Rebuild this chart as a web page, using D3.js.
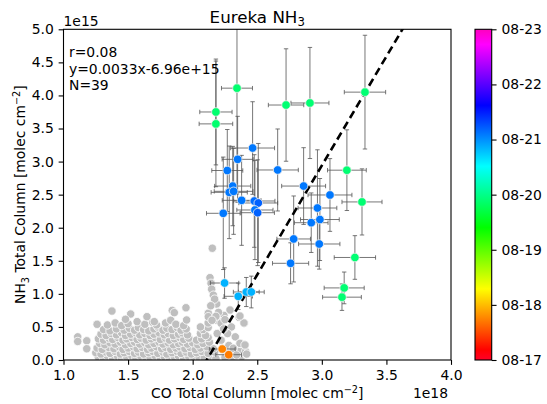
<!DOCTYPE html>
<html lang="en">
<head>
<meta charset="UTF-8">
<title>Eureka NH3 vs CO</title>
<script src="https://d3js.org/d3.v7.min.js"></script>
<style>
    body { margin: 0; background: #fff; }
    svg { font-family: "DejaVu Sans", sans-serif; }
</style>
</head>
<body>
<svg id="chart" width="547" height="404"></svg>
<script>
// background (all data) points: CO [1e18], NH3 [1e15]
const greyPoints = [
    [1.27,0.04],[1.31,0.02],[1.34,0.06],[1.38,0.03],[1.42,0.05],[1.45,0.02],[1.49,0.04],[1.53,0.06],[1.56,0.03],[1.60,0.05],
    [1.64,0.02],[1.67,0.04],[1.71,0.06],[1.75,0.03],[1.78,0.05],[1.82,0.02],[1.86,0.04],[1.89,0.06],[1.93,0.03],[1.97,0.05],
    [2.01,0.02],[2.05,0.04],[2.09,0.03],[2.14,0.05],[2.18,0.02],[2.25,0.04],[2.32,0.03],[2.38,0.05],
    [1.25,0.11],[1.29,0.09],[1.33,0.12],[1.36,0.10],[1.40,0.13],[1.44,0.09],[1.47,0.11],[1.51,0.13],[1.55,0.10],[1.58,0.12],
    [1.62,0.09],[1.66,0.11],[1.69,0.13],[1.73,0.10],[1.77,0.12],[1.80,0.09],[1.84,0.11],[1.88,0.13],[1.91,0.10],[1.95,0.12],
    [1.99,0.09],[2.03,0.11],[2.07,0.13],[2.12,0.10],[2.17,0.12],[2.34,0.08],[2.41,0.09],
    [1.26,0.18],[1.30,0.16],[1.35,0.19],[1.39,0.17],[1.43,0.20],[1.46,0.16],[1.50,0.18],[1.54,0.20],[1.57,0.17],[1.61,0.19],
    [1.65,0.16],[1.68,0.18],[1.72,0.20],[1.76,0.17],[1.79,0.19],[1.83,0.16],[1.87,0.18],[1.90,0.20],[1.94,0.17],[1.98,0.19],
    [2.02,0.16],[2.06,0.18],[2.11,0.20],[2.16,0.17],[2.31,0.18],[2.37,0.15],[2.41,0.13],
    [1.28,0.25],[1.32,0.23],[1.36,0.26],[1.40,0.24],[1.44,0.27],[1.48,0.23],[1.52,0.25],[1.55,0.27],[1.59,0.24],[1.63,0.26],
    [1.66,0.23],[1.70,0.25],[1.74,0.27],[1.77,0.24],[1.81,0.26],[1.85,0.23],[1.89,0.25],[1.92,0.27],[1.96,0.24],[2.00,0.26],
    [2.04,0.23],[2.08,0.25],[2.13,0.27],[2.37,0.25],[2.40,0.23],
    [1.27,0.32],[1.31,0.30],[1.35,0.33],[1.38,0.31],[1.42,0.34],[1.46,0.30],[1.49,0.32],[1.53,0.34],[1.57,0.31],[1.60,0.33],
    [1.64,0.30],[1.68,0.32],[1.71,0.34],[1.75,0.31],[1.79,0.33],[1.82,0.30],[1.86,0.32],[1.90,0.34],[1.93,0.31],[1.97,0.33],
    [2.03,0.30],[2.07,0.32],[2.12,0.34],
    [1.29,0.39],[1.33,0.37],[1.37,0.40],[1.41,0.38],[1.45,0.41],[1.48,0.37],[1.52,0.39],[1.56,0.41],[1.59,0.38],[1.63,0.40],
    [1.67,0.37],[1.70,0.39],[1.74,0.41],[1.78,0.38],[1.81,0.40],[1.85,0.37],[1.89,0.39],[1.92,0.41],[1.96,0.38],[2.06,0.40],
    [2.10,0.37],
    [1.31,0.46],[1.36,0.44],[1.41,0.47],[1.47,0.45],[1.51,0.48],[1.55,0.45],[1.58,0.49],[1.62,0.46],[1.66,0.44],[1.70,0.47],
    [1.73,0.50],[1.77,0.45],[1.80,0.48],[1.84,0.46],[1.88,0.49],[1.91,0.45],[1.95,0.47],[2.08,0.46],[2.12,0.49],
    [1.34,0.53],[1.40,0.56],[1.45,0.52],[1.50,0.55],[1.57,0.58],[1.63,0.54],[1.69,0.57],[1.72,0.53],[1.79,0.56],[1.83,0.60],
    [1.87,0.54],[1.93,0.52],[2.06,0.50],[2.12,0.56],[2.19,0.60],[2.22,0.555],[2.40,0.56],
    [1.11,0.35],[1.11,0.28],[1.18,0.29],[1.18,0.17],[1.26,0.54],[1.375,0.74],[1.52,0.695],[1.48,0.615],[1.646,0.655],
    [1.703,0.58],[1.842,0.75],[1.858,0.716],[1.948,0.79],[1.953,0.605],
    [2.152,1.69],[2.134,1.245],[2.142,1.16],[2.147,1.07],[2.16,0.98],[2.186,0.847],[2.121,0.706],[2.289,0.756],[2.36,0.645],
    [2.242,0.675],[2.121,0.655],[2.17,0.92],[2.14,0.82],[2.20,0.72],[2.18,0.66],[2.15,0.60],[2.25,0.61],[2.30,0.50],
    [2.27,0.40],[2.33,0.35],[2.22,0.30],[2.28,0.22],[2.19,0.40],[2.24,0.47],[2.366,0.252],[2.405,0.227],[2.314,0.177],
    [2.418,0.09],[2.34,0.075],[2.397,0.56],[2.366,0.665]
];

// Eureka coincident measurements
const coX    = [2.229, 2.279,
                2.343, 2.180, 2.180, 2.723, 2.908, 3.334, 3.194, 3.311, 3.256, 3.173, 3.156,
                2.464, 2.348, 2.268, 2.658, 2.310, 2.283, 2.317, 2.379, 2.477, 2.508, 2.482, 2.503, 2.237,
                2.859, 3.063, 2.966, 2.985, 2.918, 2.782, 2.980, 2.758,
                2.247, 2.353, 2.415, 2.454];
const nh3Y   = [0.166, 0.080,
                4.110, 3.750, 3.570, 3.855, 3.886, 4.050, 2.870, 2.390, 1.550, 1.090, 0.950,
                3.205, 3.034, 2.865, 2.873, 2.630, 2.535, 2.550, 2.414, 2.404, 2.374, 2.268, 2.227, 2.218,
                2.630, 2.495, 2.298, 2.124, 2.076, 1.830, 1.754, 1.462,
                1.164, 0.963, 1.028, 1.028];
const coErr  = [0.10, 0.10,
                0.12, 0.125, 0.13, 0.137, 0.147, 0.16, 0.15, 0.155, 0.16, 0.155, 0.15,
                0.17, 0.12, 0.12, 0.16, 0.14, 0.14, 0.15, 0.15, 0.16, 0.15, 0.14, 0.13, 0.13,
                0.17, 0.17, 0.15, 0.15, 0.13, 0.13, 0.16, 0.14,
                0.11, 0.11, 0.10, 0.10];
const nh3Err = [0.05, 0.05,
                1.60, 0.80, 0.95, 0.85, 0.84, 0.86, 0.61, 0.50, 0.33, 0.24, 0.20,
                0.70, 0.65, 0.62, 0.62, 0.60, 0.70, 0.65, 0.68, 0.70, 0.90, 0.75, 0.80, 0.85,
                0.58, 0.55, 0.88, 0.62, 0.45, 0.65, 0.38, 0.31,
                0.23, 0.20, 0.22, 0.24];
const obsDay = [17.75, 17.72,
                19.88, 19.88, 19.88, 19.9, 19.9, 19.9, 19.9, 19.9, 19.9, 19.9, 19.9,
                21.1, 21.1, 21.1, 21.1, 21.1, 21.1, 21.1, 21.1, 21.15, 21.2, 21.1, 21.2, 21.1,
                21.1, 21.1, 21.1, 21.1, 21.1, 21.1, 21.1, 21.1,
                20.85, 20.85, 20.85, 20.85];

const xTicks = [1.0, 1.5, 2.0, 2.5, 3.0, 3.5, 4.0];
const yTicks = [0.0, 0.5, 1.0, 1.5, 2.0, 2.5, 3.0, 3.5, 4.0, 4.5, 5.0];
const dayTicks = [17, 18, 19, 20, 21, 22, 23];
const dayLabels = ["08-17", "08-18", "08-19", "08-20", "08-21", "08-22", "08-23"];
const statLines = ["r=0.08", "y=0.0033x-6.96e+15", "N=39"];
const fitSlope = 0.0033, fitIntercept = -6.96e15;

// gist_rainbow colormap
const cmapPos = [0, 0.03, 0.215, 0.4, 0.586, 0.77, 0.954, 1];
const cmapCol = ["rgb(255,0,41)", "rgb(255,0,0)", "rgb(255,255,0)", "rgb(0,255,0)",
                 "rgb(0,255,255)", "rgb(0,0,255)", "rgb(255,0,255)", "rgb(255,0,191)"];
const cmap = d3.scaleLinear().domain(cmapPos).range(cmapCol).clamp(true);
const dayNorm = d3.scaleLinear().domain([17, 23]).range([0, 1]);

const svg = d3.select("#chart");
const pL = 63.5, pR = 451, pT = 29.3, pB = 360;
const fs = 13.9, tick = 4.86;

const x = d3.scaleLinear().domain([1, 4]).range([pL, pR]);
const y = d3.scaleLinear().domain([0, 5]).range([pB, pT]);

const defs = svg.append("defs");
defs.append("clipPath").attr("id", "plotClip")
    .append("rect").attr("x", pL).attr("y", pT)
    .attr("width", pR - pL).attr("height", pB - pT);

const plot = svg.append("g").attr("clip-path", "url(#plotClip)");

// background points
plot.append("g").selectAll("circle")
    .data(greyPoints)
    .join("circle")
    .attr("cx", d => x(d[0]))
    .attr("cy", d => y(d[1]))
    .attr("r", 4.2)
    .attr("fill", "#bfbfbf")
    .attr("stroke", "#fff")
    .attr("stroke-width", 0.8);

const obs = coX.map((d, i) => ({x: d, y: nh3Y[i], xe: coErr[i], ye: nh3Err[i], day: obsDay[i]}));

// error bars
const eb = plot.append("g")
    .attr("stroke", "#555")
    .attr("stroke-opacity", 0.8)
    .attr("stroke-width", 1);
obs.forEach(d => {
    eb.append("line").attr("x1", x(d.x - d.xe)).attr("x2", x(d.x + d.xe)).attr("y1", y(d.y)).attr("y2", y(d.y));
    eb.append("line").attr("x1", x(d.x)).attr("x2", x(d.x)).attr("y1", y(d.y - d.ye)).attr("y2", y(d.y + d.ye));
    [d.x - d.xe, d.x + d.xe].forEach(v => {
        eb.append("line").attr("x1", x(v)).attr("x2", x(v)).attr("y1", y(d.y) - 2.2).attr("y2", y(d.y) + 2.2);
    });
    [d.y - d.ye, d.y + d.ye].forEach(v => {
        eb.append("line").attr("x1", x(d.x) - 2.2).attr("x2", x(d.x) + 2.2).attr("y1", y(v)).attr("y2", y(v));
    });
});

// regression line
plot.append("line")
    .attr("x1", x(1)).attr("y1", y((fitSlope * 1e18 + fitIntercept) / 1e15))
    .attr("x2", x(4)).attr("y2", y((fitSlope * 4e18 + fitIntercept) / 1e15))
    .attr("stroke", "#000")
    .attr("stroke-width", 2.6)
    .attr("stroke-dasharray", "8,4.5");

// coloured observations
plot.append("g").selectAll("circle")
    .data(obs)
    .join("circle")
    .attr("cx", d => x(d.x))
    .attr("cy", d => y(d.y))
    .attr("r", 4.3)
    .attr("fill", d => cmap(dayNorm(d.day)))
    .attr("stroke", "#eee")
    .attr("stroke-width", 0.8);

// axes
const xAxis = svg.append("g")
    .attr("transform", `translate(0,${pB})`)
    .call(d3.axisBottom(x).tickValues(xTicks).tickFormat(d3.format(".1f")).tickSize(tick).tickPadding(4.9));
const yAxis = svg.append("g")
    .attr("transform", `translate(${pL},0)`)
    .call(d3.axisLeft(y).tickValues(yTicks).tickFormat(d3.format(".1f")).tickSize(tick).tickPadding(4.9));
[xAxis, yAxis].forEach(a => {
    a.select(".domain").remove();
    a.selectAll("line").attr("stroke", "#000").attr("stroke-width", 1.1);
    a.selectAll("text").attr("font-size", fs).attr("font-family", "DejaVu Sans").attr("fill", "#000");
});

svg.append("rect")
    .attr("x", pL).attr("y", pT)
    .attr("width", pR - pL).attr("height", pB - pT)
    .attr("fill", "none").attr("stroke", "#000").attr("stroke-width", 1.1);

// stats annotation
svg.append("g").selectAll("text")
    .data(statLines)
    .join("text")
    .attr("x", 69)
    .attr("y", (d, i) => 57 + i * 16.5)
    .attr("font-size", fs)
    .text(d => d);

// offsets, title, labels
svg.append("text").attr("x", pL).attr("y", 25.5).attr("font-size", fs).text("1e15");
svg.append("text").attr("x", 448).attr("y", 398).attr("font-size", fs).attr("text-anchor", "end").text("1e18");

const title = svg.append("text").attr("x", (pL + pR) / 2).attr("y", 22.5)
    .attr("font-size", 16.7).attr("text-anchor", "middle");
title.append("tspan").text("Eureka NH");
title.append("tspan").attr("font-size", 11.7).attr("dy", 3.5).text("3");

const xl = svg.append("text").attr("x", (pL + pR) / 2).attr("y", 398)
    .attr("font-size", fs).attr("text-anchor", "middle");
xl.append("tspan").text("CO Total Column [molec cm");
xl.append("tspan").attr("font-size", 9.7).attr("dy", -5.5).text("\u22122");
xl.append("tspan").attr("dy", 5.5).text("]");

const yl = svg.append("text")
    .attr("transform", `translate(25,${(pT + pB) / 2}) rotate(-90)`)
    .attr("font-size", fs).attr("text-anchor", "middle");
yl.append("tspan").text("NH");
yl.append("tspan").attr("font-size", 9.7).attr("dy", 3.5).text("3");
yl.append("tspan").attr("dy", -3.5).text(" Total Column [molec cm");
yl.append("tspan").attr("font-size", 9.7).attr("dy", -5.5).text("\u22122");
yl.append("tspan").attr("dy", 5.5).text("]");

// colorbar
const cbLeft = 475, cbRight = 491.7;
const cy = d3.scaleLinear().domain([17, 23]).range([pB, pT]);
const grad = defs.append("linearGradient").attr("id", "cbGrad")
    .attr("x1", 0).attr("y1", 1).attr("x2", 0).attr("y2", 0);
grad.selectAll("stop")
    .data(cmapPos)
    .join("stop")
    .attr("offset", d => d)
    .attr("stop-color", (d, i) => cmapCol[i]);
svg.append("rect")
    .attr("x", cbLeft).attr("y", pT)
    .attr("width", cbRight - cbLeft).attr("height", pB - pT)
    .attr("fill", "url(#cbGrad)")
    .attr("stroke", "#000").attr("stroke-width", 1.1);
const cAxis = svg.append("g")
    .attr("transform", `translate(${cbRight},0)`)
    .call(d3.axisRight(cy).tickValues(dayTicks).tickFormat((d, i) => dayLabels[i]).tickSize(tick).tickPadding(4.9));
cAxis.select(".domain").remove();
cAxis.selectAll("line").attr("stroke", "#000").attr("stroke-width", 1.1);
cAxis.selectAll("text").attr("font-size", fs).attr("font-family", "DejaVu Sans").attr("fill", "#000");
</script>
</body>
</html>
